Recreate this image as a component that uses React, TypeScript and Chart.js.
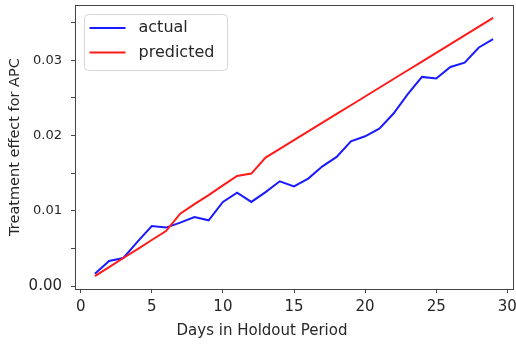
import React, { useEffect, useRef } from "react";
import { Chart, registerables } from "chart.js";

Chart.register(...registerables);

const days = [1, 2, 3, 4, 5, 6, 7, 8, 9, 10, 11, 12, 13, 14, 15, 16, 17, 18, 19, 20, 21, 22, 23, 24, 25, 26, 27, 28, 29];
const actual = [
  0.00168, 0.00336, 0.00376, 0.00593, 0.0080, 0.0078, 0.00845, 0.0092, 0.00876, 0.0112,
  0.01244, 0.0112, 0.0125, 0.01394, 0.01327, 0.0143, 0.01593, 0.01717, 0.01925, 0.01991,
  0.02093, 0.02293, 0.0255, 0.02779, 0.02757, 0.02911, 0.02969, 0.03169, 0.03279,
];
const predicted = [
  0.00137, 0.00256, 0.00376, 0.00495, 0.00615, 0.00734, 0.00965, 0.0109, 0.0121, 0.0134,
  0.01464, 0.01496, 0.01708, 0.01824, 0.0194, 0.02056, 0.02172, 0.02288, 0.02403, 0.02519,
  0.02635, 0.02751, 0.02867, 0.02983, 0.03098, 0.03214, 0.0333, 0.03446, 0.03562,
];
const xTicks = [0, 5, 10, 15, 20, 25, 30];
const yTicks = [0, 0.005, 0.01, 0.015, 0.02, 0.025, 0.03, 0.035];
const seriesNames = ["actual", "predicted"];
const seriesColors = ["#1a1aff", "#ff1a1a"];
const xTitle = "Days in Holdout Period";
const yTitle = "Treatment effect for APC";

const FONT = "'DejaVu Sans', sans-serif";
const TEXT = "#262626";
const AXIS = "#444444";

export default function App() {
  const ref = useRef<HTMLCanvasElement>(null);

  useEffect(() => {
    if (!ref.current) return;

    const framePlugin = {
      id: "frameAndLegend",
      afterDraw(chart: any) {
        const ctx = chart.ctx;
        const a = chart.chartArea;
        ctx.save();
        ctx.strokeStyle = AXIS;
        ctx.lineWidth = 1;
        ctx.strokeRect(Math.round(a.left) + 0.5, Math.round(a.top) + 0.5, Math.round(a.right - a.left), Math.round(a.bottom - a.top));
        ctx.fillStyle = TEXT;
        ctx.font = `15px ${FONT}`;
        ctx.textAlign = "center";
        ctx.textBaseline = "middle";
        ctx.fillText(xTitle, 262, 331);
        const lx = a.left + 9.5, ly = a.top + 9.5, lw = 143, lh = 56, r = 4;
        ctx.beginPath();
        ctx.moveTo(lx + r, ly);
        ctx.lineTo(lx + lw - r, ly);
        ctx.quadraticCurveTo(lx + lw, ly, lx + lw, ly + r);
        ctx.lineTo(lx + lw, ly + lh - r);
        ctx.quadraticCurveTo(lx + lw, ly + lh, lx + lw - r, ly + lh);
        ctx.lineTo(lx + r, ly + lh);
        ctx.quadraticCurveTo(lx, ly + lh, lx, ly + lh - r);
        ctx.lineTo(lx, ly + r);
        ctx.quadraticCurveTo(lx, ly, lx + r, ly);
        ctx.closePath();
        ctx.fillStyle = "rgba(255,255,255,0.8)";
        ctx.fill();
        ctx.strokeStyle = "#d6d6d6";
        ctx.stroke();
        ctx.font = `16px ${FONT}`;
        ctx.textAlign = "left";
        seriesNames.forEach((name, i) => {
          const y = ly + 13.5 + i * 24.5;
          ctx.strokeStyle = seriesColors[i];
          ctx.lineWidth = 2;
          ctx.beginPath();
          ctx.moveTo(lx + 5, y);
          ctx.lineTo(lx + 41, y);
          ctx.stroke();
          ctx.fillStyle = TEXT;
          ctx.fillText(name, lx + 54, y);
        });
        ctx.restore();
      },
    };

    const chart = new Chart(ref.current, {
      type: "line",
      data: {
        datasets: [
          {
            label: seriesNames[0],
            data: days.map((d, i) => ({ x: d, y: actual[i] })),
            borderColor: seriesColors[0],
            borderWidth: 2,
            pointRadius: 0,
            tension: 0,
            fill: false,
            order: 2,
          },
          {
            label: seriesNames[1],
            data: days.map((d, i) => ({ x: d, y: predicted[i] })),
            borderColor: seriesColors[1],
            borderWidth: 2,
            pointRadius: 0,
            tension: 0,
            fill: false,
            order: 1,
          },
        ],
      },
      options: {
        responsive: false,
        animation: false,
        layout: { padding: { left: 0, top: 5, right: 3, bottom: 0 } },
        plugins: {
          legend: { display: false },
          tooltip: { enabled: false },
        },
        scales: {
          x: {
            type: "linear",
            min: -0.4,
            max: 30.4,
            afterBuildTicks: (scale: any) => {
              scale.ticks = xTicks.map((v) => ({ value: v }));
            },
            afterFit: (scale: any) => {
              scale.height = 58;
              scale.paddingLeft = 0;
              scale.paddingRight = 0;
            },
            grid: {
              drawOnChartArea: false,
              drawTicks: true,
              tickLength: 4,
              tickColor: AXIS,
            },
            border: { display: false },
            ticks: {
              color: TEXT,
              font: { family: FONT, size: 15 },
              padding: 5,
              maxRotation: 0,
              callback: (v: any) => String(v),
            },
          },
          y: {
            type: "linear",
            min: -0.00035,
            max: 0.03733,
            afterBuildTicks: (scale: any) => {
              scale.ticks = yTicks.map((v) => ({ value: v }));
            },
            afterFit: (scale: any) => {
              scale.width = 75;
              scale.paddingTop = 0;
              scale.paddingBottom = 0;
            },
            grid: {
              drawOnChartArea: false,
              drawTicks: true,
              tickLength: 4,
              tickColor: AXIS,
            },
            border: { display: false },
            title: {
              display: true,
              text: yTitle,
              color: TEXT,
              font: { family: FONT, size: 14.5 },
              padding: { top: 7, bottom: 0 },
            },
            ticks: {
              color: TEXT,
              font: (ctx: any) => ({ family: FONT, size: ctx.tick && ctx.tick.value === 0 ? 15 : 13 }),
              padding: 9,
              callback: (v: any) => {
                const n = Math.round(Number(v) * 1000);
                return n % 10 === 0 ? (Number(v)).toFixed(2) : "";
              },
            },
          },
        },
      },
      plugins: [framePlugin],
    });

    return () => chart.destroy();
  }, []);

  return (
    <div style={{ position: "fixed", left: 0, top: 0, width: 516, height: 347, background: "#fff" }}>
      <canvas ref={ref} width={516} height={347} style={{ display: "block" }} />
    </div>
  );
}
